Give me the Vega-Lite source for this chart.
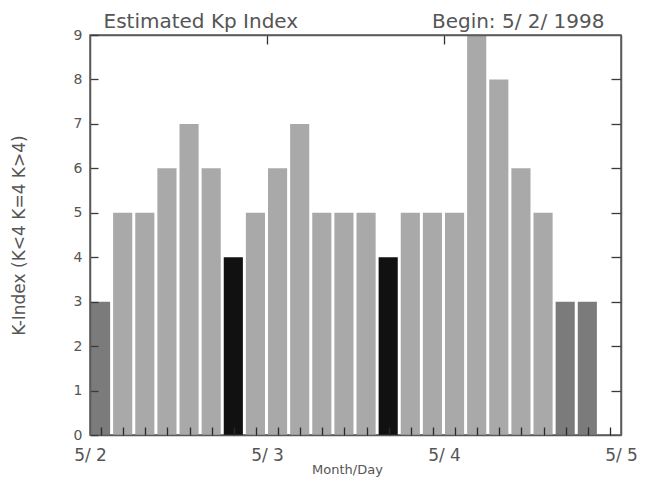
{
  "$schema": "https://vega.github.io/schema/vega-lite/v6.json",
  "autosize": {"type": "none"},
  "padding": {"left": 90, "top": 35, "right": 26, "bottom": 50},
  "width": 531,
  "height": 400,
  "background": "white",
  "config": {
    "view": {"stroke": "#5a5a5a", "strokeWidth": 1.5},
    "font": "DejaVu Sans",
    "axis": {"domainColor": "#5a5a5a", "domainWidth": 1.5, "tickColor": "#3a3a3a", "tickWidth": 1.3, "labelColor": "#555555", "titleColor": "#555555", "labelFont": "DejaVu Sans", "titleFont": "DejaVu Sans", "titleFontWeight": "normal", "grid": false}
  },
  "data": {"values": [
    {"start": "1998-05-02T00:00:00Z", "end": "1998-05-02T03:00:00Z", "kp": 3, "level": "K<4"},
    {"start": "1998-05-02T03:00:00Z", "end": "1998-05-02T06:00:00Z", "kp": 5, "level": "K>4"},
    {"start": "1998-05-02T06:00:00Z", "end": "1998-05-02T09:00:00Z", "kp": 5, "level": "K>4"},
    {"start": "1998-05-02T09:00:00Z", "end": "1998-05-02T12:00:00Z", "kp": 6, "level": "K>4"},
    {"start": "1998-05-02T12:00:00Z", "end": "1998-05-02T15:00:00Z", "kp": 7, "level": "K>4"},
    {"start": "1998-05-02T15:00:00Z", "end": "1998-05-02T18:00:00Z", "kp": 6, "level": "K>4"},
    {"start": "1998-05-02T18:00:00Z", "end": "1998-05-02T21:00:00Z", "kp": 4, "level": "K=4"},
    {"start": "1998-05-02T21:00:00Z", "end": "1998-05-03T00:00:00Z", "kp": 5, "level": "K>4"},
    {"start": "1998-05-03T00:00:00Z", "end": "1998-05-03T03:00:00Z", "kp": 6, "level": "K>4"},
    {"start": "1998-05-03T03:00:00Z", "end": "1998-05-03T06:00:00Z", "kp": 7, "level": "K>4"},
    {"start": "1998-05-03T06:00:00Z", "end": "1998-05-03T09:00:00Z", "kp": 5, "level": "K>4"},
    {"start": "1998-05-03T09:00:00Z", "end": "1998-05-03T12:00:00Z", "kp": 5, "level": "K>4"},
    {"start": "1998-05-03T12:00:00Z", "end": "1998-05-03T15:00:00Z", "kp": 5, "level": "K>4"},
    {"start": "1998-05-03T15:00:00Z", "end": "1998-05-03T18:00:00Z", "kp": 4, "level": "K=4"},
    {"start": "1998-05-03T18:00:00Z", "end": "1998-05-03T21:00:00Z", "kp": 5, "level": "K>4"},
    {"start": "1998-05-03T21:00:00Z", "end": "1998-05-04T00:00:00Z", "kp": 5, "level": "K>4"},
    {"start": "1998-05-04T00:00:00Z", "end": "1998-05-04T03:00:00Z", "kp": 5, "level": "K>4"},
    {"start": "1998-05-04T03:00:00Z", "end": "1998-05-04T06:00:00Z", "kp": 9, "level": "K>4"},
    {"start": "1998-05-04T06:00:00Z", "end": "1998-05-04T09:00:00Z", "kp": 8, "level": "K>4"},
    {"start": "1998-05-04T09:00:00Z", "end": "1998-05-04T12:00:00Z", "kp": 6, "level": "K>4"},
    {"start": "1998-05-04T12:00:00Z", "end": "1998-05-04T15:00:00Z", "kp": 5, "level": "K>4"},
    {"start": "1998-05-04T15:00:00Z", "end": "1998-05-04T18:00:00Z", "kp": 3, "level": "K<4"},
    {"start": "1998-05-04T18:00:00Z", "end": "1998-05-04T21:00:00Z", "kp": 3, "level": "K<4"}
  ]},
  "layer": [
    {
      "mark": {"type": "bar", "orient": "vertical", "xOffset": 1, "x2Offset": -2, "clip": true},
      "encoding": {
        "x": {"field": "start", "type": "temporal",
          "scale": {"type": "utc", "nice": false, "padding": 0, "domain": [{"utc": true, "year": 1998, "month": 5, "date": 2}, {"utc": true, "year": 1998, "month": 5, "date": 5}]},
          "axis": {"orient": "bottom", "title": "Month/Day", "format": "%-m/ %-d", "ticks": false, "labelPadding": 12, "labelFontSize": 17, "titleFontSize": 13, "titlePadding": 0, "titleX": 257, "titleAlign": "center", "labelFlush": false, "zindex": 1,
            "values": [{"utc": true, "year": 1998, "month": 5, "date": 2}, {"utc": true, "year": 1998, "month": 5, "date": 3}, {"utc": true, "year": 1998, "month": 5, "date": 4}, {"utc": true, "year": 1998, "month": 5, "date": 5}]}},
        "x2": {"field": "end"},
        "y": {"field": "kp", "type": "quantitative",
          "scale": {"domain": [0, 9], "nice": false, "padding": 0},
          "axis": {"orient": "left", "title": "K-Index (K<4 K=4 K>4)", "values": [0, 1, 2, 3, 4, 5, 6, 7, 8, 9], "tickSize": -8, "labelPadding": 16, "labelFontSize": 14, "titleFontSize": 17, "titlePadding": 45, "zindex": 1}},
        "color": {"field": "level", "type": "nominal", "scale": {"domain": ["K<4", "K=4", "K>4"], "range": ["#7b7b7b", "#111111", "#a9a9a9"]}, "legend": null}
      }
    },
    {
      "mark": {"type": "point", "opacity": 0},
      "encoding": {
        "x": {"field": "start", "type": "temporal",
          "axis": {"orient": "top", "title": "Begin: 5/ 2/ 1998", "titleAlign": "right", "titleAnchor": "end", "titleX": 514, "titleY": -8, "titleBaseline": "alphabetic", "titleFontSize": 20, "labels": false, "ticks": true, "tickColor": "#333333", "tickSize": -9, "zindex": 1,
            "values": [{"utc": true, "year": 1998, "month": 5, "date": 3}, {"utc": true, "year": 1998, "month": 5, "date": 4}]}},
        "y": {"field": "kp", "type": "quantitative",
          "axis": {"orient": "right", "title": null, "labels": false, "tickSize": -10, "values": [1, 2, 3, 4, 5, 6, 7, 8], "zindex": 1}}
      }
    },
    {
      "mark": {"type": "point", "opacity": 0},
      "encoding": {
        "x": {"field": "start", "type": "temporal",
          "axis": {"orient": "top", "title": "Estimated Kp Index", "titleAlign": "left", "titleAnchor": "start", "titleX": 13, "titleY": -8, "titleBaseline": "alphabetic", "titleFontSize": 20, "labels": false, "ticks": false, "domain": false}}
      }
    },
    {
      "mark": {"type": "point", "opacity": 0},
      "encoding": {
        "x": {"field": "start", "type": "temporal",
          "axis": {"orient": "bottom", "title": null, "labels": false, "domain": false, "ticks": true, "tickColor": "#2a2a2a", "tickSize": -8, "zindex": 2,
            "values": [
              {"utc": true, "year": 1998, "month": 5, "date": 2, "hours": 1, "minutes": 30},
              {"utc": true, "year": 1998, "month": 5, "date": 2, "hours": 4, "minutes": 30},
              {"utc": true, "year": 1998, "month": 5, "date": 2, "hours": 7, "minutes": 30},
              {"utc": true, "year": 1998, "month": 5, "date": 2, "hours": 10, "minutes": 30},
              {"utc": true, "year": 1998, "month": 5, "date": 2, "hours": 13, "minutes": 30},
              {"utc": true, "year": 1998, "month": 5, "date": 2, "hours": 16, "minutes": 30},
              {"utc": true, "year": 1998, "month": 5, "date": 2, "hours": 19, "minutes": 30},
              {"utc": true, "year": 1998, "month": 5, "date": 2, "hours": 22, "minutes": 30},
              {"utc": true, "year": 1998, "month": 5, "date": 3, "hours": 1, "minutes": 30},
              {"utc": true, "year": 1998, "month": 5, "date": 3, "hours": 4, "minutes": 30},
              {"utc": true, "year": 1998, "month": 5, "date": 3, "hours": 7, "minutes": 30},
              {"utc": true, "year": 1998, "month": 5, "date": 3, "hours": 10, "minutes": 30},
              {"utc": true, "year": 1998, "month": 5, "date": 3, "hours": 13, "minutes": 30},
              {"utc": true, "year": 1998, "month": 5, "date": 3, "hours": 16, "minutes": 30},
              {"utc": true, "year": 1998, "month": 5, "date": 3, "hours": 19, "minutes": 30},
              {"utc": true, "year": 1998, "month": 5, "date": 3, "hours": 22, "minutes": 30},
              {"utc": true, "year": 1998, "month": 5, "date": 4, "hours": 1, "minutes": 30},
              {"utc": true, "year": 1998, "month": 5, "date": 4, "hours": 4, "minutes": 30},
              {"utc": true, "year": 1998, "month": 5, "date": 4, "hours": 7, "minutes": 30},
              {"utc": true, "year": 1998, "month": 5, "date": 4, "hours": 10, "minutes": 30},
              {"utc": true, "year": 1998, "month": 5, "date": 4, "hours": 13, "minutes": 30},
              {"utc": true, "year": 1998, "month": 5, "date": 4, "hours": 16, "minutes": 30},
              {"utc": true, "year": 1998, "month": 5, "date": 4, "hours": 19, "minutes": 30},
              {"utc": true, "year": 1998, "month": 5, "date": 4, "hours": 22, "minutes": 30}
            ]}},
        "y": {"field": "kp", "type": "quantitative", "axis": null}
      }
    }
  ],
  "resolve": {"axis": {"x": "independent", "y": "independent"}}
}
